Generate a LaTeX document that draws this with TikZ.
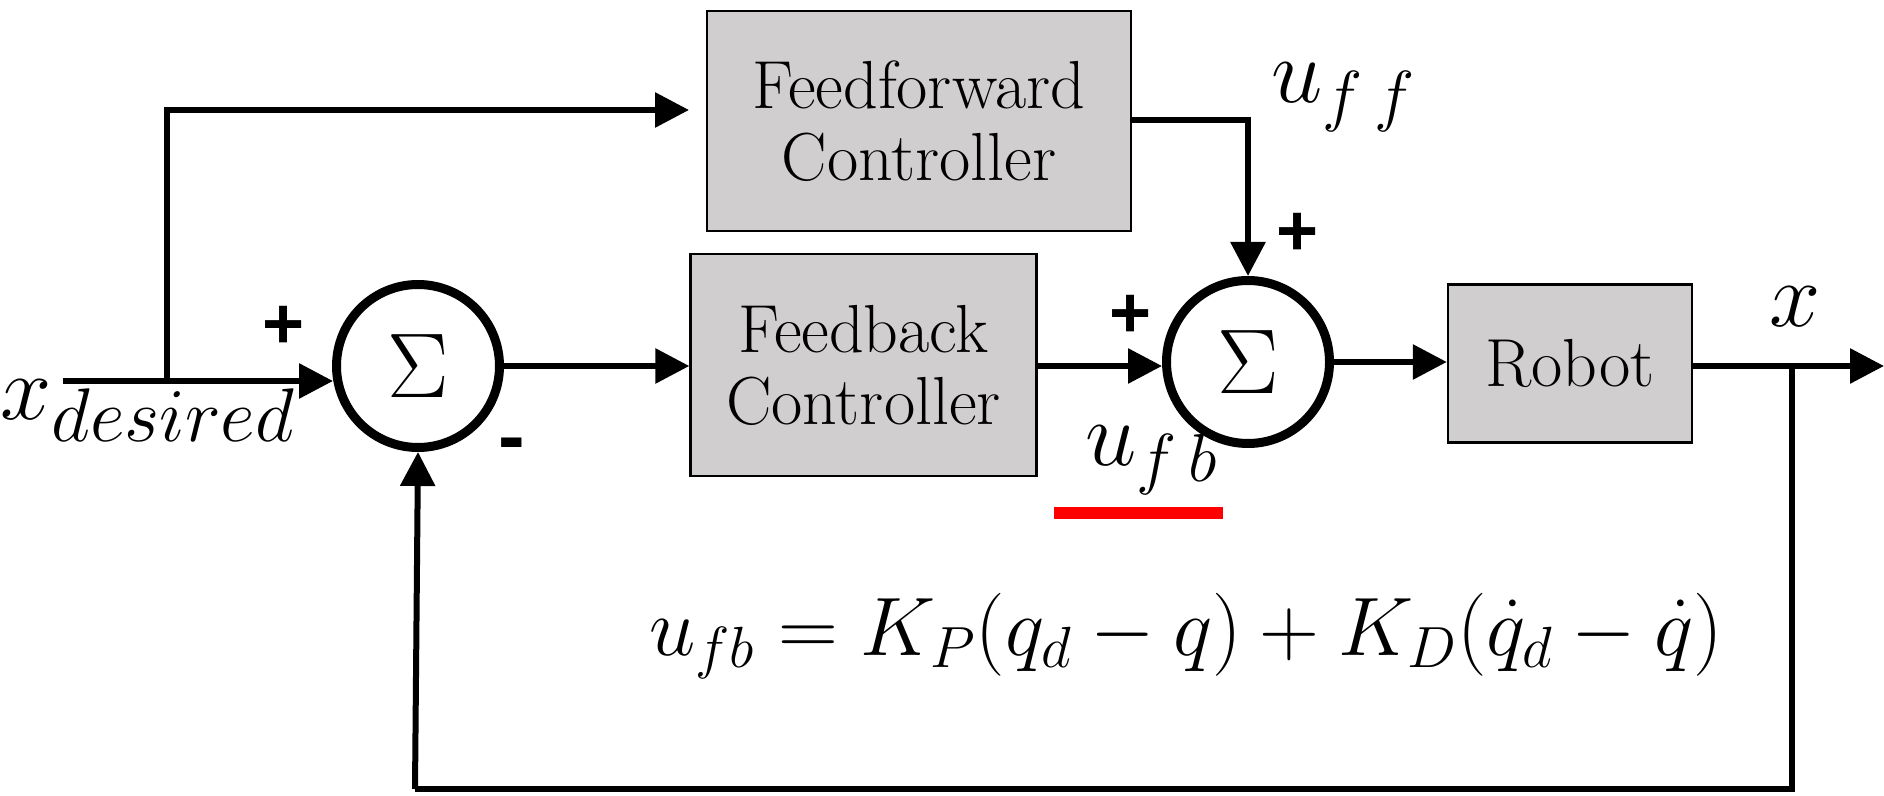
\documentclass[tikz,border=0pt]{standalone}
\usepackage{fix-cm}
\usepackage{fontspec}
\newfontfamily\signfont{Liberation Sans}
\usetikzlibrary{arrows.meta}
\definecolor{boxgray}{RGB}{208,206,207}
\newcommand{\bigsub}[2]{\mbox{\fontsize{#1}{#1}\selectfont$#2$}}
\tikzset{
  blockbox/.style={draw=black, line width=1.2pt, fill=boxgray, align=center, inner sep=0pt,
    font=\fontsize{34}{36}\selectfont},
  sumnode/.style={circle, draw=black, line width=4.5pt, fill=white, minimum size=81.5pt, inner sep=0pt,
    font=\fontsize{46}{50}\selectfont},
  wire/.style={line width=3pt},
  arr/.style={line width=3pt, -{Triangle[length=17pt,width=17pt]}},
  sign/.style={font=\signfont\bfseries\fontsize{36}{40}\selectfont, inner sep=0pt},
  lab/.style={inner sep=0pt, font=\fontsize{46}{50}\selectfont},
}
\begin{document}
\begin{tikzpicture}[x=0.5pt, y=-0.5pt]
\useasboundingbox (0,0) rectangle (1884,796);
% blocks
\node[blockbox, minimum width=212pt, minimum height=110pt] (ff) at (919,121) {Feedforward\\Controller};
\node[blockbox, minimum width=173pt, minimum height=111pt] (fb) at (863.5,365) {Feedback\\Controller};
\node[blockbox, minimum width=122pt, minimum height=79pt] (robot) at (1570,363.5) {Robot};
\node[sumnode] (s1) at (418,366) {$\Sigma$};
\node[sumnode] (s2) at (1248,362) {$\Sigma$};
% coordinates
\coordinate (in) at (63,381);
\coordinate (br) at (167,381);
\coordinate (ffa) at (167,110);
\coordinate (ffend) at (689,110);
\coordinate (s1in) at (333,381);
\coordinate (ffc) at (1248,120);
\coordinate (out) at (1884,366);
\coordinate (tap) at (1792,366);
\coordinate (bot1) at (1792,789);
\coordinate (bot2) at (415,789);
% connectors
\draw[arr] (in) -- (s1in);
\draw[arr] (br) -- (ffa) -- (ffend);
\draw[arr] (s1.east) -- (s1.east -| fb.west);
\draw[arr] (fb.east |- s2.west) ++(0,4) -- ([yshift=-2pt]s2.west);
\draw[arr] (ff.east |- ffc) -- (ffc) -- (s2.north);
\draw[arr] (s2.east) -- (s2.east -| robot.west);
\draw[arr] (robot.east |- out) -- (out);
\draw[wire] (tap) -- (bot1) -- (bot2);
\draw[arr] (bot2) -- (s1.south);
% signs
\node[sign] (p1) at (284,327) {+};
\node[sign, font=\signfont\bfseries\fontsize{40}{40}\selectfont] (m1) at (512,451) {-};
\node[sign] (p2) at (1298,234) {+};
\node[sign] (p3) at (1131,316) {+};
% labels
\node[lab, anchor=base west] (xd) at (0,420) {$x_{\bigsub{38}{desired}}$};
\node[lab, anchor=base west] (uff) at (1271,103) {$u_{\bigsub{34}{f\,f}}$};
\node[lab, anchor=base west] (ufb) at (1085,466) {$u_{\bigsub{34}{f\,b}}$};
\node[lab, anchor=base] (xo) at (1795,327) {$x$};
\node[inner sep=0pt, anchor=base west, font=\fontsize{41.5}{45}\selectfont] (eq) at (649,655)
  {$u_{fb} = K_P(q_d - q) + K_D(\dot q_d - \dot q)$};
\draw[red, line width=6pt] (1054,513) -- (1223,513);
\end{tikzpicture}
\end{document}
